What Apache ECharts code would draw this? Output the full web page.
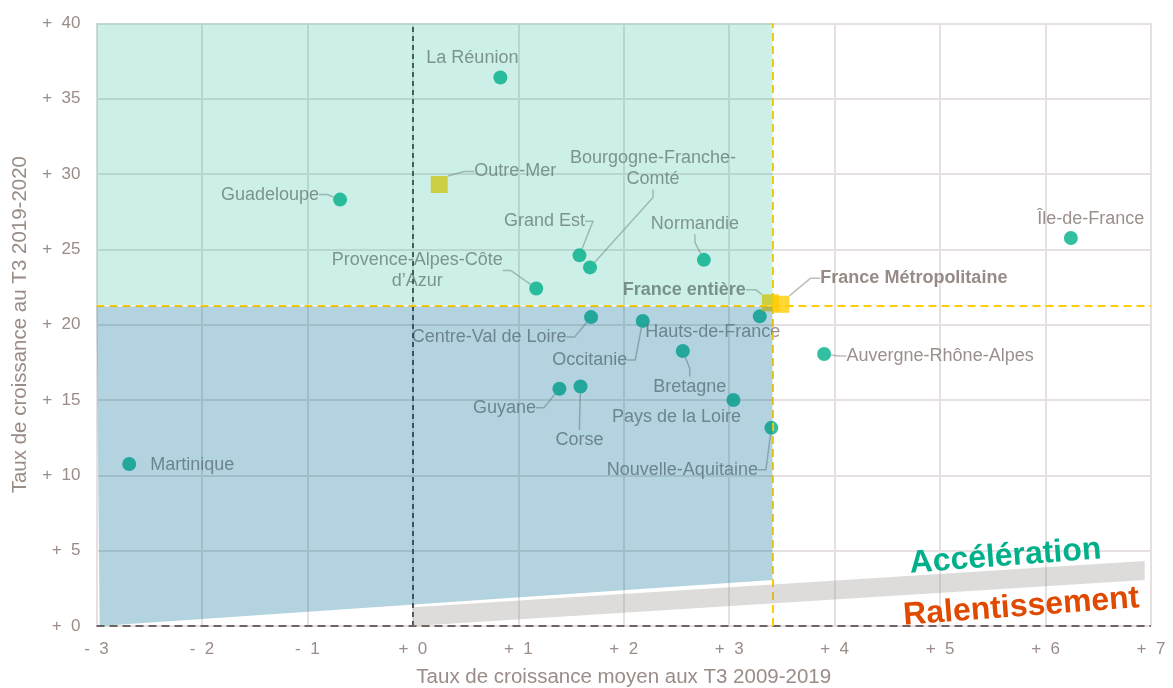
<!DOCTYPE html>
<html>
<head>
<meta charset="utf-8">
<title>Taux de croissance par région</title>
<script src="https://cdn.jsdelivr.net/npm/echarts@6/dist/echarts.min.js"></script>
<style>
    html, body { margin: 0; padding: 0; background: #fff; }
    #chart { width: 1173px; height: 688px; }
</style>
</head>
<body>
<div id="chart"></div>
<script>
    // Regions (x: average growth Q3 2009-2019, y: growth Q3 2019-2020)
    var regionNames = ['La Réunion', 'Guadeloupe', 'Grand Est', 'Bourgogne-Franche-Comté', 'Normandie',
        'Île-de-France', 'Provence-Alpes-Côte d’Azur', 'Centre-Val de Loire', 'Occitanie', 'Hauts-de-France',
        'Bretagne', 'Guyane', 'Corse', 'Pays de la Loire', 'Nouvelle-Aquitaine', 'Auvergne-Rhône-Alpes', 'Martinique'];
    var regionX = [0.83, -0.69, 1.58, 1.68, 2.76, 6.24, 1.17, 1.69, 2.18, 3.29, 2.56, 1.39, 1.59, 3.04, 3.40, 3.90, -2.69];
    var regionY = [36.4, 28.3, 24.6, 23.8, 24.3, 25.75, 22.4, 20.5, 20.25, 20.55, 18.25, 15.75, 15.9, 15.0, 13.15, 18.05, 10.75];

    // Aggregates
    var aggregateNames = ['Outre-Mer', 'France entière', 'France Métropolitaine'];
    var aggregateX = [0.25, 3.39, 3.49];
    var aggregateY = [29.3, 21.45, 21.35];

    // reference values (France métropolitaine)
    var refX = 3.41;
    var refY = 21.25;

    var xMin = -3, xMax = 7, yMin = 0, yMax = 40;

    // label placement (offset of label centre from the point, px)
    var labelOffsets = {
        'La Réunion': [-28, -20], 'Guadeloupe': [-70, -5], 'Grand Est': [-35, -34],
        'Bourgogne-Franche-Comté': [63, -99], 'Normandie': [-9, -36], 'Île-de-France': [20, -19],
        'Provence-Alpes-Côte d’Azur': [-119, -18], 'Centre-Val de Loire': [-102, 20], 'Occitanie': [-53, 39],
        'Hauts-de-France': [-47, 16], 'Bretagne': [7, 36], 'Guyane': [-55, 19], 'Corse': [-1, 54],
        'Pays de la Loire': [-57, 17], 'Nouvelle-Aquitaine': [-89, 42], 'Auvergne-Rhône-Alpes': [116, 2],
        'Martinique': [63, 1], 'Outre-Mer': [76, -13], 'France entière': [-86, -13], 'France Métropolitaine': [133, -26]
    };
    var labelText = {
        'Bourgogne-Franche-Comté': 'Bourgogne-Franche-\nComté',
        'Provence-Alpes-Côte d’Azur': 'Provence-Alpes-Côte\nd’Azur'
    };
    var noLeader = ['La Réunion', 'Île-de-France', 'Hauts-de-France', 'Martinique', 'Pays de la Loire'];

    var FONT = "'Liberation Sans', Arial, sans-serif";
    var textColor = '#82736e';
    var axisTextColor = '#9a8c87';

    // shaded zones, drawn on top with transparency
    var zones = [
        { points: [[xMin, refY + 0.05], [refX, refY + 0.05], [refX, yMax], [xMin, yMax]], color: 'rgba(0,176,138,0.2)' },
        { points: [[xMin, refY - 0.05], [refX, refY - 0.05], [refX, 3.05], [-2.97, 0]], color: 'rgba(0,110,150,0.3)' },
        { points: [[0, 0], [0, 1.25], [6.94, 4.32], [6.94, 3.05]], color: 'rgba(150,145,140,0.32)' }
    ];

    var annotations = [
        { text: 'Accélération', x: 5.62, y: 4.6, color: '#00b08a' },
        { text: 'Ralentissement', x: 5.77, y: 1.25, color: '#e04a00' }
    ];

    function makeLabelLayout(names) {
        return function (params) {
            var off = labelOffsets[names[params.dataIndex]] || [0, 0];
            return { dx: off[0], dy: off[1], hideOverlap: false };
        };
    }

    function pointData(names, xs, ys) {
        return names.map(function (n, i) {
            var item = { name: n, value: [xs[i], ys[i]] };
            if (noLeader.indexOf(n) >= 0) item.labelLine = { show: false };
            return item;
        });
    }

    var chart = echarts.init(document.getElementById('chart'), null, { renderer: 'canvas' });

    var labelBase = {
        show: true,
        position: 'inside',
        formatter: function (p) { return labelText[p.name] || p.name; },
        color: textColor,
        fontSize: 18,
        lineHeight: 21,
        fontFamily: FONT,
        textBorderWidth: 0,
        align: 'center'
    };

    var options = {
        animation: false,
        backgroundColor: '#fff',
        grid: { left: 96.5, right: 22, top: 23.3, bottom: 62, outerBoundsMode: 'none' },
        xAxis: {
            type: 'value',
            min: xMin, max: xMax, interval: 1,
            name: 'Taux de croissance moyen aux T3 2009-2019',
            nameLocation: 'middle',
            nameGap: 41,
            nameTextStyle: { color: axisTextColor, fontSize: 20.5, fontFamily: FONT },
            axisLine: { show: false },
            axisTick: { show: false },
            axisLabel: {
                color: axisTextColor, fontSize: 17, fontFamily: FONT, margin: 15,
                formatter: function (v) { return (v < 0 ? '-  ' : '+  ') + Math.abs(v); }
            },
            splitLine: { show: true, lineStyle: { color: '#e6e0e0', width: 2 } }
        },
        yAxis: {
            type: 'value',
            min: yMin, max: yMax, interval: 5,
            name: 'Taux de croissance au T3 2019-2020',
            nameLocation: 'middle',
            nameGap: 65,
            nameTextStyle: { color: axisTextColor, fontSize: 20.5, fontFamily: FONT },
            axisLine: { show: false },
            axisTick: { show: false },
            axisLabel: {
                color: axisTextColor, fontSize: 17, fontFamily: FONT, margin: 16,
                formatter: function (v) { return '+  ' + v; }
            },
            splitLine: { show: true, lineStyle: { color: '#e6e0e0', width: 2 } }
        },
        series: [{
            // reference lines
            type: 'scatter',
            data: [],
            z: 2,
            markLine: {
                silent: true,
                symbol: 'none',
                label: { show: false },
                data: [
                    [{ coord: [0, yMin], lineStyle: { color: '#4d4d4d', width: 2, type: [5, 4] } }, { coord: [0, yMax] }],
                    [{ coord: [xMin, 0], lineStyle: { color: '#6e6462', width: 2, type: [8, 5] } }, { coord: [xMax, 0] }],
                    [{ coord: [refX, yMin], lineStyle: { color: '#ffcc00', width: 2, type: [8, 5] } }, { coord: [refX, yMax] }],
                    [{ coord: [xMin, refY], lineStyle: { color: '#ffcc00', width: 2, type: [8, 5] } }, { coord: [xMax, refY] }]
                ]
            }
        }, {
            name: 'Régions',
            type: 'scatter',
            z: 3,
            symbol: 'circle',
            symbolSize: 14,
            itemStyle: { color: '#00b08a' },
            data: pointData(regionNames, regionX, regionY),
            label: labelBase,
            labelLine: { show: true, length2: 8, lineStyle: { color: 'rgba(120,110,105,0.45)', width: 1.5 } },
            labelLayout: makeLabelLayout(regionNames)
        }, {
            name: 'Ensembles',
            type: 'scatter',
            z: 4,
            symbol: 'rect',
            symbolSize: 17,
            itemStyle: { color: '#ffcc00' },
            data: pointData(aggregateNames, aggregateX, aggregateY).map(function (d) {
                if (d.name !== 'Outre-Mer') {
                    d.label = { fontWeight: 'bold', color: '#7d6e69' };
                }
                return d;
            }),
            label: labelBase,
            labelLine: { show: true, length2: 10, lineStyle: { color: 'rgba(120,110,105,0.45)', width: 1.5 } },
            labelLayout: makeLabelLayout(aggregateNames)
        }, {
            // shaded zones
            type: 'custom',
            z: 10,
            silent: true,
            data: zones.map(function (z, i) { return [i]; }),
            renderItem: function (params, api) {
                var zone = zones[params.dataIndex];
                return {
                    type: 'polygon',
                    shape: { points: zone.points.map(function (p) { return api.coord(p); }) },
                    style: { fill: zone.color }
                };
            }
        }, {
            // Accélération / Ralentissement
            type: 'custom',
            z: 11,
            silent: true,
            data: annotations.map(function (a, i) { return [i]; }),
            renderItem: function (params, api) {
                var a = annotations[params.dataIndex];
                var pt = api.coord([a.x, a.y]);
                return {
                    type: 'text',
                    x: pt[0], y: pt[1],
                    rotation: 0.075,
                    style: {
                        text: a.text, fill: a.color,
                        font: 'bold 32px ' + FONT,
                        align: 'center', verticalAlign: 'middle'
                    }
                };
            }
        }]
    };

    chart.setOption(options);

    window.addEventListener('resize', function () {
        chart.resize();
    });
</script>
</body>
</html>
